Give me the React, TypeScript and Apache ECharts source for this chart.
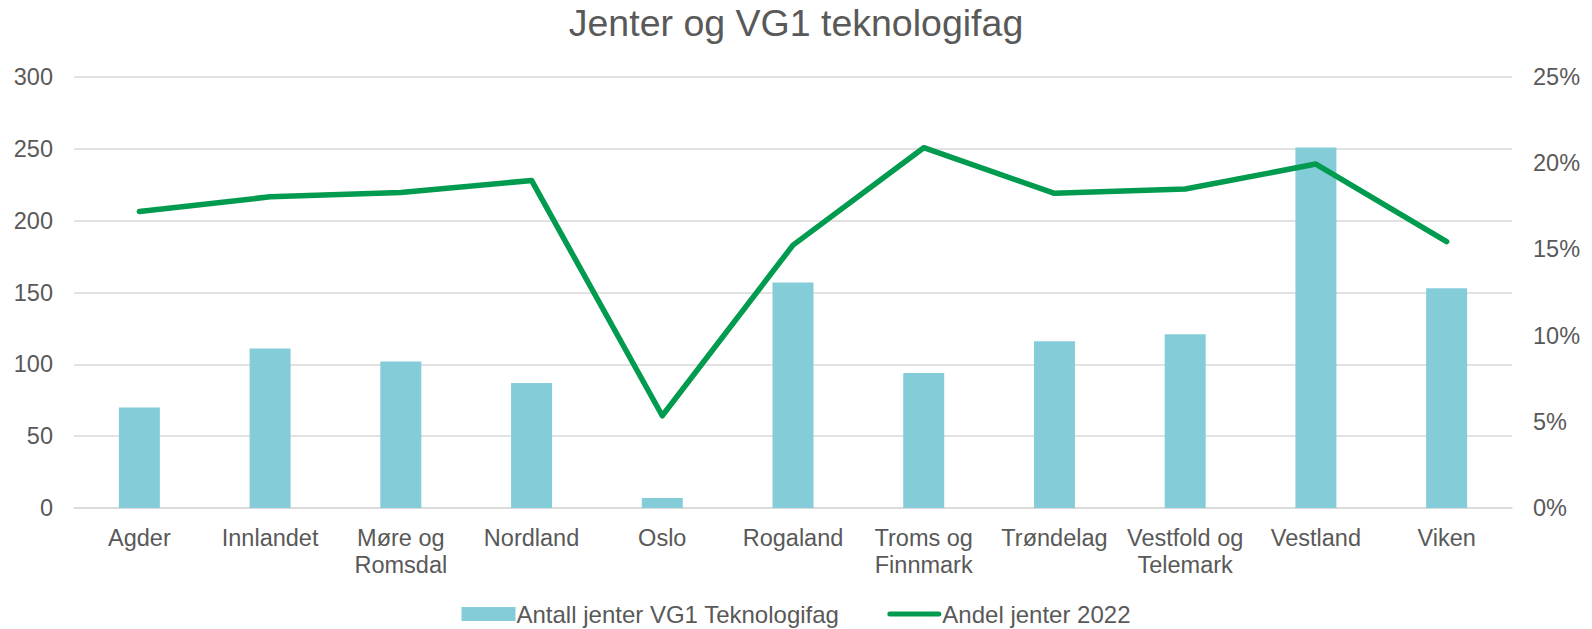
import React, { useEffect, useRef } from "react";
import * as echarts from "echarts";

const categories = [
  "Agder",
  "Innlandet",
  "Møre og\nRomsdal",
  "Nordland",
  "Oslo",
  "Rogaland",
  "Troms og\nFinnmark",
  "Trøndelag",
  "Vestfold og\nTelemark",
  "Vestland",
  "Viken",
];
const antallJenter = [70, 111, 102, 87, 7, 157, 94, 116, 121, 251, 153];
const andelJenter = [0.172, 0.1805, 0.183, 0.19, 0.0535, 0.1525, 0.209, 0.1825, 0.185, 0.1995, 0.1545];
const leftTicks = [0, 50, 100, 150, 200, 250, 300];
const rightTicks = [0, 0.05, 0.1, 0.15, 0.2, 0.25];

const TEXT = "#595959";
const FONT = "'Liberation Sans', Arial, sans-serif";
const LINE_ICON = "path://M2.5,0 H51.5 A2.5,2.5 0 0 1 51.5,5 H2.5 A2.5,2.5 0 0 1 2.5,0 Z";

export default function App() {
  const ref = useRef<HTMLDivElement>(null);
  useEffect(() => {
    document.body.style.margin = "0";
    if (!ref.current) return;
    const chart = echarts.init(ref.current, null, { renderer: "svg" });
    chart.setOption({
      animation: false,
      textStyle: { fontFamily: FONT, color: TEXT },
      title: {
        text: "Jenter og VG1 teknologifag",
        left: "center",
        top: -1,
        textStyle: { fontFamily: FONT, fontSize: 37.5, fontWeight: "normal", color: TEXT },
      },
      legend: {
        bottom: -2,
        left: "center",
        itemGap: 48,
        itemWidth: 54,
        itemHeight: 14,
        textStyle: { fontFamily: FONT, fontSize: 24, color: TEXT, padding: [0, 0, 0, -4] },
        data: [
          { name: "Antall jenter VG1 Teknologifag", icon: "rect" },
          { name: "Andel jenter 2022", icon: LINE_ICON, itemStyle: { color: "#009B4E" } },
        ],
      },
      grid: { left: 74, right: 80, top: 77, bottom: 121, containLabel: false },
      xAxis: {
        type: "category",
        data: categories,
        axisTick: { show: false },
        axisLine: { lineStyle: { color: "#D9D9D9", width: 1.5 } },
        axisLabel: {
          interval: 0,
          fontFamily: FONT,
          fontSize: 23.5,
          color: TEXT,
          lineHeight: 27,
          margin: 16,
        },
      },
      yAxis: [
        {
          type: "value",
          min: leftTicks[0],
          max: leftTicks[leftTicks.length - 1],
          interval: 50,
          axisLine: { show: false },
          axisTick: { show: false },
          splitLine: { lineStyle: { color: "#D9D9D9", width: 1.5 } },
          axisLabel: { fontFamily: FONT, fontSize: 23.5, color: TEXT, margin: 21 },
        },
        {
          type: "value",
          min: rightTicks[0],
          max: rightTicks[rightTicks.length - 1],
          interval: 0.05,
          axisLine: { show: false },
          axisTick: { show: false },
          splitLine: { show: false },
          axisLabel: {
            fontFamily: FONT,
            fontSize: 23.5,
            color: TEXT,
            margin: 21,
            formatter: (v: number) => Math.round(v * 100) + "%",
          },
        },
      ],
      series: [
        {
          name: "Antall jenter VG1 Teknologifag",
          type: "bar",
          data: antallJenter,
          barWidth: 41,
          itemStyle: { color: "#85CCD9" },
          yAxisIndex: 0,
        },
        {
          name: "Andel jenter 2022",
          type: "line",
          data: andelJenter,
          yAxisIndex: 1,
          symbol: "none",
          lineStyle: { color: "#009B4E", width: 5.5, cap: "round", join: "round" },
          itemStyle: { color: "#009B4E" },
        },
      ],
    });
    return () => chart.dispose();
  }, []);
  return <div ref={ref} style={{ width: 1592, height: 629 }} />;
}
